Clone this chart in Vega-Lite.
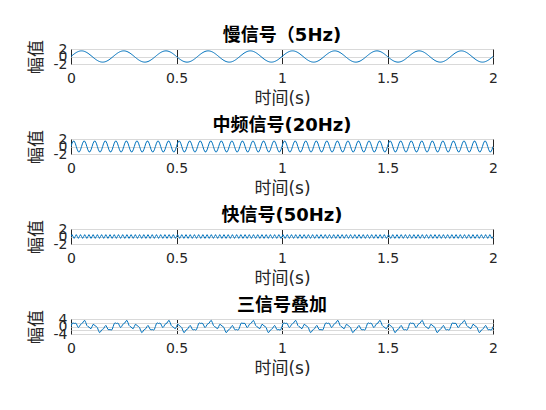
{
"$schema": "https://vega.github.io/schema/vega-lite/v6.json",
"padding": {"left": 26, "top": 26, "right": 10, "bottom": 5},
"datasets": {"sig": [
{"t":0,"slow":0,"mid":0,"fast":0,"sum":0},
{"t":0.005,"slow":0.235,"mid":0.882,"fast":0.5,"sum":1.617},
{"t":0.01,"slow":0.464,"mid":1.427,"fast":0,"sum":1.891},
{"t":0.015,"slow":0.681,"mid":1.427,"fast":-0.5,"sum":1.608},
{"t":0.02,"slow":0.882,"mid":0.882,"fast":0,"sum":1.764},
{"t":0.025,"slow":1.061,"mid":0,"fast":0.5,"sum":1.561},
{"t":0.03,"slow":1.214,"mid":-0.882,"fast":0,"sum":0.332},
{"t":0.035,"slow":1.337,"mid":-1.427,"fast":-0.5,"sum":-0.59},
{"t":0.04,"slow":1.427,"mid":-1.427,"fast":0,"sum":0},
{"t":0.045,"slow":1.482,"mid":-0.882,"fast":0.5,"sum":1.1},
{"t":0.05,"slow":1.5,"mid":0,"fast":0,"sum":1.5},
{"t":0.055,"slow":1.482,"mid":0.882,"fast":-0.5,"sum":1.864},
{"t":0.06,"slow":1.427,"mid":1.427,"fast":0,"sum":2.854},
{"t":0.065,"slow":1.337,"mid":1.427,"fast":0.5,"sum":3.264},
{"t":0.07,"slow":1.214,"mid":0.882,"fast":0,"sum":2.096},
{"t":0.075,"slow":1.061,"mid":0,"fast":-0.5,"sum":0.561},
{"t":0.08,"slow":0.882,"mid":-0.882,"fast":0,"sum":0},
{"t":0.085,"slow":0.681,"mid":-1.427,"fast":0.5,"sum":-0.246},
{"t":0.09,"slow":0.464,"mid":-1.427,"fast":0,"sum":-0.963},
{"t":0.095,"slow":0.235,"mid":-0.882,"fast":-0.5,"sum":-1.147},
{"t":0.1,"slow":0,"mid":0,"fast":0,"sum":0},
{"t":0.105,"slow":-0.235,"mid":0.882,"fast":0.5,"sum":1.147},
{"t":0.11,"slow":-0.464,"mid":1.427,"fast":0,"sum":0.963},
{"t":0.115,"slow":-0.681,"mid":1.427,"fast":-0.5,"sum":0.246},
{"t":0.12,"slow":-0.882,"mid":0.882,"fast":0,"sum":0},
{"t":0.125,"slow":-1.061,"mid":0,"fast":0.5,"sum":-0.561},
{"t":0.13,"slow":-1.214,"mid":-0.882,"fast":0,"sum":-2.096},
{"t":0.135,"slow":-1.337,"mid":-1.427,"fast":-0.5,"sum":-3.264},
{"t":0.14,"slow":-1.427,"mid":-1.427,"fast":0,"sum":-2.854},
{"t":0.145,"slow":-1.482,"mid":-0.882,"fast":0.5,"sum":-1.864},
{"t":0.15,"slow":-1.5,"mid":0,"fast":0,"sum":-1.5},
{"t":0.155,"slow":-1.482,"mid":0.882,"fast":-0.5,"sum":-1.1},
{"t":0.16,"slow":-1.427,"mid":1.427,"fast":0,"sum":0},
{"t":0.165,"slow":-1.337,"mid":1.427,"fast":0.5,"sum":0.59},
{"t":0.17,"slow":-1.214,"mid":0.882,"fast":0,"sum":-0.332},
{"t":0.175,"slow":-1.061,"mid":0,"fast":-0.5,"sum":-1.561},
{"t":0.18,"slow":-0.882,"mid":-0.882,"fast":0,"sum":-1.764},
{"t":0.185,"slow":-0.681,"mid":-1.427,"fast":0.5,"sum":-1.608},
{"t":0.19,"slow":-0.464,"mid":-1.427,"fast":0,"sum":-1.891},
{"t":0.195,"slow":-0.235,"mid":-0.882,"fast":-0.5,"sum":-1.617},
{"t":0.2,"slow":0,"mid":0,"fast":0,"sum":0},
{"t":0.205,"slow":0.235,"mid":0.882,"fast":0.5,"sum":1.617},
{"t":0.21,"slow":0.464,"mid":1.427,"fast":0,"sum":1.891},
{"t":0.215,"slow":0.681,"mid":1.427,"fast":-0.5,"sum":1.608},
{"t":0.22,"slow":0.882,"mid":0.882,"fast":0,"sum":1.764},
{"t":0.225,"slow":1.061,"mid":0,"fast":0.5,"sum":1.561},
{"t":0.23,"slow":1.214,"mid":-0.882,"fast":0,"sum":0.332},
{"t":0.235,"slow":1.337,"mid":-1.427,"fast":-0.5,"sum":-0.59},
{"t":0.24,"slow":1.427,"mid":-1.427,"fast":0,"sum":0},
{"t":0.245,"slow":1.482,"mid":-0.882,"fast":0.5,"sum":1.1},
{"t":0.25,"slow":1.5,"mid":0,"fast":0,"sum":1.5},
{"t":0.255,"slow":1.482,"mid":0.882,"fast":-0.5,"sum":1.864},
{"t":0.26,"slow":1.427,"mid":1.427,"fast":0,"sum":2.854},
{"t":0.265,"slow":1.337,"mid":1.427,"fast":0.5,"sum":3.264},
{"t":0.27,"slow":1.214,"mid":0.882,"fast":0,"sum":2.096},
{"t":0.275,"slow":1.061,"mid":0,"fast":-0.5,"sum":0.561},
{"t":0.28,"slow":0.882,"mid":-0.882,"fast":0,"sum":0},
{"t":0.285,"slow":0.681,"mid":-1.427,"fast":0.5,"sum":-0.246},
{"t":0.29,"slow":0.464,"mid":-1.427,"fast":0,"sum":-0.963},
{"t":0.295,"slow":0.235,"mid":-0.882,"fast":-0.5,"sum":-1.147},
{"t":0.3,"slow":0,"mid":0,"fast":0,"sum":0},
{"t":0.305,"slow":-0.235,"mid":0.882,"fast":0.5,"sum":1.147},
{"t":0.31,"slow":-0.464,"mid":1.427,"fast":0,"sum":0.963},
{"t":0.315,"slow":-0.681,"mid":1.427,"fast":-0.5,"sum":0.246},
{"t":0.32,"slow":-0.882,"mid":0.882,"fast":0,"sum":0},
{"t":0.325,"slow":-1.061,"mid":0,"fast":0.5,"sum":-0.561},
{"t":0.33,"slow":-1.214,"mid":-0.882,"fast":0,"sum":-2.096},
{"t":0.335,"slow":-1.337,"mid":-1.427,"fast":-0.5,"sum":-3.264},
{"t":0.34,"slow":-1.427,"mid":-1.427,"fast":0,"sum":-2.854},
{"t":0.345,"slow":-1.482,"mid":-0.882,"fast":0.5,"sum":-1.864},
{"t":0.35,"slow":-1.5,"mid":0,"fast":0,"sum":-1.5},
{"t":0.355,"slow":-1.482,"mid":0.882,"fast":-0.5,"sum":-1.1},
{"t":0.36,"slow":-1.427,"mid":1.427,"fast":0,"sum":0},
{"t":0.365,"slow":-1.337,"mid":1.427,"fast":0.5,"sum":0.59},
{"t":0.37,"slow":-1.214,"mid":0.882,"fast":0,"sum":-0.332},
{"t":0.375,"slow":-1.061,"mid":0,"fast":-0.5,"sum":-1.561},
{"t":0.38,"slow":-0.882,"mid":-0.882,"fast":0,"sum":-1.764},
{"t":0.385,"slow":-0.681,"mid":-1.427,"fast":0.5,"sum":-1.608},
{"t":0.39,"slow":-0.464,"mid":-1.427,"fast":0,"sum":-1.891},
{"t":0.395,"slow":-0.235,"mid":-0.882,"fast":-0.5,"sum":-1.617},
{"t":0.4,"slow":0,"mid":0,"fast":0,"sum":0},
{"t":0.405,"slow":0.235,"mid":0.882,"fast":0.5,"sum":1.617},
{"t":0.41,"slow":0.464,"mid":1.427,"fast":0,"sum":1.891},
{"t":0.415,"slow":0.681,"mid":1.427,"fast":-0.5,"sum":1.608},
{"t":0.42,"slow":0.882,"mid":0.882,"fast":0,"sum":1.764},
{"t":0.425,"slow":1.061,"mid":0,"fast":0.5,"sum":1.561},
{"t":0.43,"slow":1.214,"mid":-0.882,"fast":0,"sum":0.332},
{"t":0.435,"slow":1.337,"mid":-1.427,"fast":-0.5,"sum":-0.59},
{"t":0.44,"slow":1.427,"mid":-1.427,"fast":0,"sum":0},
{"t":0.445,"slow":1.482,"mid":-0.882,"fast":0.5,"sum":1.1},
{"t":0.45,"slow":1.5,"mid":0,"fast":0,"sum":1.5},
{"t":0.455,"slow":1.482,"mid":0.882,"fast":-0.5,"sum":1.864},
{"t":0.46,"slow":1.427,"mid":1.427,"fast":0,"sum":2.854},
{"t":0.465,"slow":1.337,"mid":1.427,"fast":0.5,"sum":3.264},
{"t":0.47,"slow":1.214,"mid":0.882,"fast":0,"sum":2.096},
{"t":0.475,"slow":1.061,"mid":0,"fast":-0.5,"sum":0.561},
{"t":0.48,"slow":0.882,"mid":-0.882,"fast":0,"sum":0},
{"t":0.485,"slow":0.681,"mid":-1.427,"fast":0.5,"sum":-0.246},
{"t":0.49,"slow":0.464,"mid":-1.427,"fast":0,"sum":-0.963},
{"t":0.495,"slow":0.235,"mid":-0.882,"fast":-0.5,"sum":-1.147},
{"t":0.5,"slow":0,"mid":0,"fast":0,"sum":0},
{"t":0.505,"slow":-0.235,"mid":0.882,"fast":0.5,"sum":1.147},
{"t":0.51,"slow":-0.464,"mid":1.427,"fast":0,"sum":0.963},
{"t":0.515,"slow":-0.681,"mid":1.427,"fast":-0.5,"sum":0.246},
{"t":0.52,"slow":-0.882,"mid":0.882,"fast":0,"sum":0},
{"t":0.525,"slow":-1.061,"mid":0,"fast":0.5,"sum":-0.561},
{"t":0.53,"slow":-1.214,"mid":-0.882,"fast":0,"sum":-2.096},
{"t":0.535,"slow":-1.337,"mid":-1.427,"fast":-0.5,"sum":-3.264},
{"t":0.54,"slow":-1.427,"mid":-1.427,"fast":0,"sum":-2.854},
{"t":0.545,"slow":-1.482,"mid":-0.882,"fast":0.5,"sum":-1.864},
{"t":0.55,"slow":-1.5,"mid":0,"fast":0,"sum":-1.5},
{"t":0.555,"slow":-1.482,"mid":0.882,"fast":-0.5,"sum":-1.1},
{"t":0.56,"slow":-1.427,"mid":1.427,"fast":0,"sum":0},
{"t":0.565,"slow":-1.337,"mid":1.427,"fast":0.5,"sum":0.59},
{"t":0.57,"slow":-1.214,"mid":0.882,"fast":0,"sum":-0.332},
{"t":0.575,"slow":-1.061,"mid":0,"fast":-0.5,"sum":-1.561},
{"t":0.58,"slow":-0.882,"mid":-0.882,"fast":0,"sum":-1.764},
{"t":0.585,"slow":-0.681,"mid":-1.427,"fast":0.5,"sum":-1.608},
{"t":0.59,"slow":-0.464,"mid":-1.427,"fast":0,"sum":-1.891},
{"t":0.595,"slow":-0.235,"mid":-0.882,"fast":-0.5,"sum":-1.617},
{"t":0.6,"slow":0,"mid":0,"fast":0,"sum":0},
{"t":0.605,"slow":0.235,"mid":0.882,"fast":0.5,"sum":1.617},
{"t":0.61,"slow":0.464,"mid":1.427,"fast":0,"sum":1.891},
{"t":0.615,"slow":0.681,"mid":1.427,"fast":-0.5,"sum":1.608},
{"t":0.62,"slow":0.882,"mid":0.882,"fast":0,"sum":1.764},
{"t":0.625,"slow":1.061,"mid":0,"fast":0.5,"sum":1.561},
{"t":0.63,"slow":1.214,"mid":-0.882,"fast":0,"sum":0.332},
{"t":0.635,"slow":1.337,"mid":-1.427,"fast":-0.5,"sum":-0.59},
{"t":0.64,"slow":1.427,"mid":-1.427,"fast":0,"sum":0},
{"t":0.645,"slow":1.482,"mid":-0.882,"fast":0.5,"sum":1.1},
{"t":0.65,"slow":1.5,"mid":0,"fast":0,"sum":1.5},
{"t":0.655,"slow":1.482,"mid":0.882,"fast":-0.5,"sum":1.864},
{"t":0.66,"slow":1.427,"mid":1.427,"fast":0,"sum":2.854},
{"t":0.665,"slow":1.337,"mid":1.427,"fast":0.5,"sum":3.264},
{"t":0.67,"slow":1.214,"mid":0.882,"fast":0,"sum":2.096},
{"t":0.675,"slow":1.061,"mid":0,"fast":-0.5,"sum":0.561},
{"t":0.68,"slow":0.882,"mid":-0.882,"fast":0,"sum":0},
{"t":0.685,"slow":0.681,"mid":-1.427,"fast":0.5,"sum":-0.246},
{"t":0.69,"slow":0.464,"mid":-1.427,"fast":0,"sum":-0.963},
{"t":0.695,"slow":0.235,"mid":-0.882,"fast":-0.5,"sum":-1.147},
{"t":0.7,"slow":0,"mid":0,"fast":0,"sum":0},
{"t":0.705,"slow":-0.235,"mid":0.882,"fast":0.5,"sum":1.147},
{"t":0.71,"slow":-0.464,"mid":1.427,"fast":0,"sum":0.963},
{"t":0.715,"slow":-0.681,"mid":1.427,"fast":-0.5,"sum":0.246},
{"t":0.72,"slow":-0.882,"mid":0.882,"fast":0,"sum":0},
{"t":0.725,"slow":-1.061,"mid":0,"fast":0.5,"sum":-0.561},
{"t":0.73,"slow":-1.214,"mid":-0.882,"fast":0,"sum":-2.096},
{"t":0.735,"slow":-1.337,"mid":-1.427,"fast":-0.5,"sum":-3.264},
{"t":0.74,"slow":-1.427,"mid":-1.427,"fast":0,"sum":-2.854},
{"t":0.745,"slow":-1.482,"mid":-0.882,"fast":0.5,"sum":-1.864},
{"t":0.75,"slow":-1.5,"mid":0,"fast":0,"sum":-1.5},
{"t":0.755,"slow":-1.482,"mid":0.882,"fast":-0.5,"sum":-1.1},
{"t":0.76,"slow":-1.427,"mid":1.427,"fast":0,"sum":0},
{"t":0.765,"slow":-1.337,"mid":1.427,"fast":0.5,"sum":0.59},
{"t":0.77,"slow":-1.214,"mid":0.882,"fast":0,"sum":-0.332},
{"t":0.775,"slow":-1.061,"mid":0,"fast":-0.5,"sum":-1.561},
{"t":0.78,"slow":-0.882,"mid":-0.882,"fast":0,"sum":-1.764},
{"t":0.785,"slow":-0.681,"mid":-1.427,"fast":0.5,"sum":-1.608},
{"t":0.79,"slow":-0.464,"mid":-1.427,"fast":0,"sum":-1.891},
{"t":0.795,"slow":-0.235,"mid":-0.882,"fast":-0.5,"sum":-1.617},
{"t":0.8,"slow":0,"mid":0,"fast":0,"sum":0},
{"t":0.805,"slow":0.235,"mid":0.882,"fast":0.5,"sum":1.617},
{"t":0.81,"slow":0.464,"mid":1.427,"fast":0,"sum":1.891},
{"t":0.815,"slow":0.681,"mid":1.427,"fast":-0.5,"sum":1.608},
{"t":0.82,"slow":0.882,"mid":0.882,"fast":0,"sum":1.764},
{"t":0.825,"slow":1.061,"mid":0,"fast":0.5,"sum":1.561},
{"t":0.83,"slow":1.214,"mid":-0.882,"fast":0,"sum":0.332},
{"t":0.835,"slow":1.337,"mid":-1.427,"fast":-0.5,"sum":-0.59},
{"t":0.84,"slow":1.427,"mid":-1.427,"fast":0,"sum":0},
{"t":0.845,"slow":1.482,"mid":-0.882,"fast":0.5,"sum":1.1},
{"t":0.85,"slow":1.5,"mid":0,"fast":0,"sum":1.5},
{"t":0.855,"slow":1.482,"mid":0.882,"fast":-0.5,"sum":1.864},
{"t":0.86,"slow":1.427,"mid":1.427,"fast":0,"sum":2.854},
{"t":0.865,"slow":1.337,"mid":1.427,"fast":0.5,"sum":3.264},
{"t":0.87,"slow":1.214,"mid":0.882,"fast":0,"sum":2.096},
{"t":0.875,"slow":1.061,"mid":0,"fast":-0.5,"sum":0.561},
{"t":0.88,"slow":0.882,"mid":-0.882,"fast":0,"sum":0},
{"t":0.885,"slow":0.681,"mid":-1.427,"fast":0.5,"sum":-0.246},
{"t":0.89,"slow":0.464,"mid":-1.427,"fast":0,"sum":-0.963},
{"t":0.895,"slow":0.235,"mid":-0.882,"fast":-0.5,"sum":-1.147},
{"t":0.9,"slow":0,"mid":0,"fast":0,"sum":0},
{"t":0.905,"slow":-0.235,"mid":0.882,"fast":0.5,"sum":1.147},
{"t":0.91,"slow":-0.464,"mid":1.427,"fast":0,"sum":0.963},
{"t":0.915,"slow":-0.681,"mid":1.427,"fast":-0.5,"sum":0.246},
{"t":0.92,"slow":-0.882,"mid":0.882,"fast":0,"sum":0},
{"t":0.925,"slow":-1.061,"mid":0,"fast":0.5,"sum":-0.561},
{"t":0.93,"slow":-1.214,"mid":-0.882,"fast":0,"sum":-2.096},
{"t":0.935,"slow":-1.337,"mid":-1.427,"fast":-0.5,"sum":-3.264},
{"t":0.94,"slow":-1.427,"mid":-1.427,"fast":0,"sum":-2.854},
{"t":0.945,"slow":-1.482,"mid":-0.882,"fast":0.5,"sum":-1.864},
{"t":0.95,"slow":-1.5,"mid":0,"fast":0,"sum":-1.5},
{"t":0.955,"slow":-1.482,"mid":0.882,"fast":-0.5,"sum":-1.1},
{"t":0.96,"slow":-1.427,"mid":1.427,"fast":0,"sum":0},
{"t":0.965,"slow":-1.337,"mid":1.427,"fast":0.5,"sum":0.59},
{"t":0.97,"slow":-1.214,"mid":0.882,"fast":0,"sum":-0.332},
{"t":0.975,"slow":-1.061,"mid":0,"fast":-0.5,"sum":-1.561},
{"t":0.98,"slow":-0.882,"mid":-0.882,"fast":0,"sum":-1.764},
{"t":0.985,"slow":-0.681,"mid":-1.427,"fast":0.5,"sum":-1.608},
{"t":0.99,"slow":-0.464,"mid":-1.427,"fast":0,"sum":-1.891},
{"t":0.995,"slow":-0.235,"mid":-0.882,"fast":-0.5,"sum":-1.617},
{"t":1,"slow":0,"mid":0,"fast":0,"sum":0},
{"t":1.005,"slow":0.235,"mid":0.882,"fast":0.5,"sum":1.617},
{"t":1.01,"slow":0.464,"mid":1.427,"fast":0,"sum":1.891},
{"t":1.015,"slow":0.681,"mid":1.427,"fast":-0.5,"sum":1.608},
{"t":1.02,"slow":0.882,"mid":0.882,"fast":0,"sum":1.764},
{"t":1.025,"slow":1.061,"mid":0,"fast":0.5,"sum":1.561},
{"t":1.03,"slow":1.214,"mid":-0.882,"fast":0,"sum":0.332},
{"t":1.035,"slow":1.337,"mid":-1.427,"fast":-0.5,"sum":-0.59},
{"t":1.04,"slow":1.427,"mid":-1.427,"fast":0,"sum":0},
{"t":1.045,"slow":1.482,"mid":-0.882,"fast":0.5,"sum":1.1},
{"t":1.05,"slow":1.5,"mid":0,"fast":0,"sum":1.5},
{"t":1.055,"slow":1.482,"mid":0.882,"fast":-0.5,"sum":1.864},
{"t":1.06,"slow":1.427,"mid":1.427,"fast":0,"sum":2.854},
{"t":1.065,"slow":1.337,"mid":1.427,"fast":0.5,"sum":3.264},
{"t":1.07,"slow":1.214,"mid":0.882,"fast":0,"sum":2.096},
{"t":1.075,"slow":1.061,"mid":0,"fast":-0.5,"sum":0.561},
{"t":1.08,"slow":0.882,"mid":-0.882,"fast":0,"sum":0},
{"t":1.085,"slow":0.681,"mid":-1.427,"fast":0.5,"sum":-0.246},
{"t":1.09,"slow":0.464,"mid":-1.427,"fast":0,"sum":-0.963},
{"t":1.095,"slow":0.235,"mid":-0.882,"fast":-0.5,"sum":-1.147},
{"t":1.1,"slow":0,"mid":0,"fast":0,"sum":0},
{"t":1.105,"slow":-0.235,"mid":0.882,"fast":0.5,"sum":1.147},
{"t":1.11,"slow":-0.464,"mid":1.427,"fast":0,"sum":0.963},
{"t":1.115,"slow":-0.681,"mid":1.427,"fast":-0.5,"sum":0.246},
{"t":1.12,"slow":-0.882,"mid":0.882,"fast":0,"sum":0},
{"t":1.125,"slow":-1.061,"mid":0,"fast":0.5,"sum":-0.561},
{"t":1.13,"slow":-1.214,"mid":-0.882,"fast":0,"sum":-2.096},
{"t":1.135,"slow":-1.337,"mid":-1.427,"fast":-0.5,"sum":-3.264},
{"t":1.14,"slow":-1.427,"mid":-1.427,"fast":0,"sum":-2.854},
{"t":1.145,"slow":-1.482,"mid":-0.882,"fast":0.5,"sum":-1.864},
{"t":1.15,"slow":-1.5,"mid":0,"fast":0,"sum":-1.5},
{"t":1.155,"slow":-1.482,"mid":0.882,"fast":-0.5,"sum":-1.1},
{"t":1.16,"slow":-1.427,"mid":1.427,"fast":0,"sum":0},
{"t":1.165,"slow":-1.337,"mid":1.427,"fast":0.5,"sum":0.59},
{"t":1.17,"slow":-1.214,"mid":0.882,"fast":0,"sum":-0.332},
{"t":1.175,"slow":-1.061,"mid":0,"fast":-0.5,"sum":-1.561},
{"t":1.18,"slow":-0.882,"mid":-0.882,"fast":0,"sum":-1.764},
{"t":1.185,"slow":-0.681,"mid":-1.427,"fast":0.5,"sum":-1.608},
{"t":1.19,"slow":-0.464,"mid":-1.427,"fast":0,"sum":-1.891},
{"t":1.195,"slow":-0.235,"mid":-0.882,"fast":-0.5,"sum":-1.617},
{"t":1.2,"slow":0,"mid":0,"fast":0,"sum":0},
{"t":1.205,"slow":0.235,"mid":0.882,"fast":0.5,"sum":1.617},
{"t":1.21,"slow":0.464,"mid":1.427,"fast":0,"sum":1.891},
{"t":1.215,"slow":0.681,"mid":1.427,"fast":-0.5,"sum":1.608},
{"t":1.22,"slow":0.882,"mid":0.882,"fast":0,"sum":1.764},
{"t":1.225,"slow":1.061,"mid":0,"fast":0.5,"sum":1.561},
{"t":1.23,"slow":1.214,"mid":-0.882,"fast":0,"sum":0.332},
{"t":1.235,"slow":1.337,"mid":-1.427,"fast":-0.5,"sum":-0.59},
{"t":1.24,"slow":1.427,"mid":-1.427,"fast":0,"sum":0},
{"t":1.245,"slow":1.482,"mid":-0.882,"fast":0.5,"sum":1.1},
{"t":1.25,"slow":1.5,"mid":0,"fast":0,"sum":1.5},
{"t":1.255,"slow":1.482,"mid":0.882,"fast":-0.5,"sum":1.864},
{"t":1.26,"slow":1.427,"mid":1.427,"fast":0,"sum":2.854},
{"t":1.265,"slow":1.337,"mid":1.427,"fast":0.5,"sum":3.264},
{"t":1.27,"slow":1.214,"mid":0.882,"fast":0,"sum":2.096},
{"t":1.275,"slow":1.061,"mid":0,"fast":-0.5,"sum":0.561},
{"t":1.28,"slow":0.882,"mid":-0.882,"fast":0,"sum":0},
{"t":1.285,"slow":0.681,"mid":-1.427,"fast":0.5,"sum":-0.246},
{"t":1.29,"slow":0.464,"mid":-1.427,"fast":0,"sum":-0.963},
{"t":1.295,"slow":0.235,"mid":-0.882,"fast":-0.5,"sum":-1.147},
{"t":1.3,"slow":0,"mid":0,"fast":0,"sum":0},
{"t":1.305,"slow":-0.235,"mid":0.882,"fast":0.5,"sum":1.147},
{"t":1.31,"slow":-0.464,"mid":1.427,"fast":0,"sum":0.963},
{"t":1.315,"slow":-0.681,"mid":1.427,"fast":-0.5,"sum":0.246},
{"t":1.32,"slow":-0.882,"mid":0.882,"fast":0,"sum":0},
{"t":1.325,"slow":-1.061,"mid":0,"fast":0.5,"sum":-0.561},
{"t":1.33,"slow":-1.214,"mid":-0.882,"fast":0,"sum":-2.096},
{"t":1.335,"slow":-1.337,"mid":-1.427,"fast":-0.5,"sum":-3.264},
{"t":1.34,"slow":-1.427,"mid":-1.427,"fast":0,"sum":-2.854},
{"t":1.345,"slow":-1.482,"mid":-0.882,"fast":0.5,"sum":-1.864},
{"t":1.35,"slow":-1.5,"mid":0,"fast":0,"sum":-1.5},
{"t":1.355,"slow":-1.482,"mid":0.882,"fast":-0.5,"sum":-1.1},
{"t":1.36,"slow":-1.427,"mid":1.427,"fast":0,"sum":0},
{"t":1.365,"slow":-1.337,"mid":1.427,"fast":0.5,"sum":0.59},
{"t":1.37,"slow":-1.214,"mid":0.882,"fast":0,"sum":-0.332},
{"t":1.375,"slow":-1.061,"mid":0,"fast":-0.5,"sum":-1.561},
{"t":1.38,"slow":-0.882,"mid":-0.882,"fast":0,"sum":-1.764},
{"t":1.385,"slow":-0.681,"mid":-1.427,"fast":0.5,"sum":-1.608},
{"t":1.39,"slow":-0.464,"mid":-1.427,"fast":0,"sum":-1.891},
{"t":1.395,"slow":-0.235,"mid":-0.882,"fast":-0.5,"sum":-1.617},
{"t":1.4,"slow":0,"mid":0,"fast":0,"sum":0},
{"t":1.405,"slow":0.235,"mid":0.882,"fast":0.5,"sum":1.617},
{"t":1.41,"slow":0.464,"mid":1.427,"fast":0,"sum":1.891},
{"t":1.415,"slow":0.681,"mid":1.427,"fast":-0.5,"sum":1.608},
{"t":1.42,"slow":0.882,"mid":0.882,"fast":0,"sum":1.764},
{"t":1.425,"slow":1.061,"mid":0,"fast":0.5,"sum":1.561},
{"t":1.43,"slow":1.214,"mid":-0.882,"fast":0,"sum":0.332},
{"t":1.435,"slow":1.337,"mid":-1.427,"fast":-0.5,"sum":-0.59},
{"t":1.44,"slow":1.427,"mid":-1.427,"fast":0,"sum":0},
{"t":1.445,"slow":1.482,"mid":-0.882,"fast":0.5,"sum":1.1},
{"t":1.45,"slow":1.5,"mid":0,"fast":0,"sum":1.5},
{"t":1.455,"slow":1.482,"mid":0.882,"fast":-0.5,"sum":1.864},
{"t":1.46,"slow":1.427,"mid":1.427,"fast":0,"sum":2.854},
{"t":1.465,"slow":1.337,"mid":1.427,"fast":0.5,"sum":3.264},
{"t":1.47,"slow":1.214,"mid":0.882,"fast":0,"sum":2.096},
{"t":1.475,"slow":1.061,"mid":0,"fast":-0.5,"sum":0.561},
{"t":1.48,"slow":0.882,"mid":-0.882,"fast":0,"sum":0},
{"t":1.485,"slow":0.681,"mid":-1.427,"fast":0.5,"sum":-0.246},
{"t":1.49,"slow":0.464,"mid":-1.427,"fast":0,"sum":-0.963},
{"t":1.495,"slow":0.235,"mid":-0.882,"fast":-0.5,"sum":-1.147},
{"t":1.5,"slow":0,"mid":0,"fast":0,"sum":0},
{"t":1.505,"slow":-0.235,"mid":0.882,"fast":0.5,"sum":1.147},
{"t":1.51,"slow":-0.464,"mid":1.427,"fast":0,"sum":0.963},
{"t":1.515,"slow":-0.681,"mid":1.427,"fast":-0.5,"sum":0.246},
{"t":1.52,"slow":-0.882,"mid":0.882,"fast":0,"sum":0},
{"t":1.525,"slow":-1.061,"mid":0,"fast":0.5,"sum":-0.561},
{"t":1.53,"slow":-1.214,"mid":-0.882,"fast":0,"sum":-2.096},
{"t":1.535,"slow":-1.337,"mid":-1.427,"fast":-0.5,"sum":-3.264},
{"t":1.54,"slow":-1.427,"mid":-1.427,"fast":0,"sum":-2.854},
{"t":1.545,"slow":-1.482,"mid":-0.882,"fast":0.5,"sum":-1.864},
{"t":1.55,"slow":-1.5,"mid":0,"fast":0,"sum":-1.5},
{"t":1.555,"slow":-1.482,"mid":0.882,"fast":-0.5,"sum":-1.1},
{"t":1.56,"slow":-1.427,"mid":1.427,"fast":0,"sum":0},
{"t":1.565,"slow":-1.337,"mid":1.427,"fast":0.5,"sum":0.59},
{"t":1.57,"slow":-1.214,"mid":0.882,"fast":0,"sum":-0.332},
{"t":1.575,"slow":-1.061,"mid":0,"fast":-0.5,"sum":-1.561},
{"t":1.58,"slow":-0.882,"mid":-0.882,"fast":0,"sum":-1.764},
{"t":1.585,"slow":-0.681,"mid":-1.427,"fast":0.5,"sum":-1.608},
{"t":1.59,"slow":-0.464,"mid":-1.427,"fast":0,"sum":-1.891},
{"t":1.595,"slow":-0.235,"mid":-0.882,"fast":-0.5,"sum":-1.617},
{"t":1.6,"slow":0,"mid":0,"fast":0,"sum":0},
{"t":1.605,"slow":0.235,"mid":0.882,"fast":0.5,"sum":1.617},
{"t":1.61,"slow":0.464,"mid":1.427,"fast":0,"sum":1.891},
{"t":1.615,"slow":0.681,"mid":1.427,"fast":-0.5,"sum":1.608},
{"t":1.62,"slow":0.882,"mid":0.882,"fast":0,"sum":1.764},
{"t":1.625,"slow":1.061,"mid":0,"fast":0.5,"sum":1.561},
{"t":1.63,"slow":1.214,"mid":-0.882,"fast":0,"sum":0.332},
{"t":1.635,"slow":1.337,"mid":-1.427,"fast":-0.5,"sum":-0.59},
{"t":1.64,"slow":1.427,"mid":-1.427,"fast":0,"sum":0},
{"t":1.645,"slow":1.482,"mid":-0.882,"fast":0.5,"sum":1.1},
{"t":1.65,"slow":1.5,"mid":0,"fast":0,"sum":1.5},
{"t":1.655,"slow":1.482,"mid":0.882,"fast":-0.5,"sum":1.864},
{"t":1.66,"slow":1.427,"mid":1.427,"fast":0,"sum":2.854},
{"t":1.665,"slow":1.337,"mid":1.427,"fast":0.5,"sum":3.264},
{"t":1.67,"slow":1.214,"mid":0.882,"fast":0,"sum":2.096},
{"t":1.675,"slow":1.061,"mid":0,"fast":-0.5,"sum":0.561},
{"t":1.68,"slow":0.882,"mid":-0.882,"fast":0,"sum":0},
{"t":1.685,"slow":0.681,"mid":-1.427,"fast":0.5,"sum":-0.246},
{"t":1.69,"slow":0.464,"mid":-1.427,"fast":0,"sum":-0.963},
{"t":1.695,"slow":0.235,"mid":-0.882,"fast":-0.5,"sum":-1.147},
{"t":1.7,"slow":0,"mid":0,"fast":0,"sum":0},
{"t":1.705,"slow":-0.235,"mid":0.882,"fast":0.5,"sum":1.147},
{"t":1.71,"slow":-0.464,"mid":1.427,"fast":0,"sum":0.963},
{"t":1.715,"slow":-0.681,"mid":1.427,"fast":-0.5,"sum":0.246},
{"t":1.72,"slow":-0.882,"mid":0.882,"fast":0,"sum":0},
{"t":1.725,"slow":-1.061,"mid":0,"fast":0.5,"sum":-0.561},
{"t":1.73,"slow":-1.214,"mid":-0.882,"fast":0,"sum":-2.096},
{"t":1.735,"slow":-1.337,"mid":-1.427,"fast":-0.5,"sum":-3.264},
{"t":1.74,"slow":-1.427,"mid":-1.427,"fast":0,"sum":-2.854},
{"t":1.745,"slow":-1.482,"mid":-0.882,"fast":0.5,"sum":-1.864},
{"t":1.75,"slow":-1.5,"mid":0,"fast":0,"sum":-1.5},
{"t":1.755,"slow":-1.482,"mid":0.882,"fast":-0.5,"sum":-1.1},
{"t":1.76,"slow":-1.427,"mid":1.427,"fast":0,"sum":0},
{"t":1.765,"slow":-1.337,"mid":1.427,"fast":0.5,"sum":0.59},
{"t":1.77,"slow":-1.214,"mid":0.882,"fast":0,"sum":-0.332},
{"t":1.775,"slow":-1.061,"mid":0,"fast":-0.5,"sum":-1.561},
{"t":1.78,"slow":-0.882,"mid":-0.882,"fast":0,"sum":-1.764},
{"t":1.785,"slow":-0.681,"mid":-1.427,"fast":0.5,"sum":-1.608},
{"t":1.79,"slow":-0.464,"mid":-1.427,"fast":0,"sum":-1.891},
{"t":1.795,"slow":-0.235,"mid":-0.882,"fast":-0.5,"sum":-1.617},
{"t":1.8,"slow":0,"mid":0,"fast":0,"sum":0},
{"t":1.805,"slow":0.235,"mid":0.882,"fast":0.5,"sum":1.617},
{"t":1.81,"slow":0.464,"mid":1.427,"fast":0,"sum":1.891},
{"t":1.815,"slow":0.681,"mid":1.427,"fast":-0.5,"sum":1.608},
{"t":1.82,"slow":0.882,"mid":0.882,"fast":0,"sum":1.764},
{"t":1.825,"slow":1.061,"mid":0,"fast":0.5,"sum":1.561},
{"t":1.83,"slow":1.214,"mid":-0.882,"fast":0,"sum":0.332},
{"t":1.835,"slow":1.337,"mid":-1.427,"fast":-0.5,"sum":-0.59},
{"t":1.84,"slow":1.427,"mid":-1.427,"fast":0,"sum":0},
{"t":1.845,"slow":1.482,"mid":-0.882,"fast":0.5,"sum":1.1},
{"t":1.85,"slow":1.5,"mid":0,"fast":0,"sum":1.5},
{"t":1.855,"slow":1.482,"mid":0.882,"fast":-0.5,"sum":1.864},
{"t":1.86,"slow":1.427,"mid":1.427,"fast":0,"sum":2.854},
{"t":1.865,"slow":1.337,"mid":1.427,"fast":0.5,"sum":3.264},
{"t":1.87,"slow":1.214,"mid":0.882,"fast":0,"sum":2.096},
{"t":1.875,"slow":1.061,"mid":0,"fast":-0.5,"sum":0.561},
{"t":1.88,"slow":0.882,"mid":-0.882,"fast":0,"sum":0},
{"t":1.885,"slow":0.681,"mid":-1.427,"fast":0.5,"sum":-0.246},
{"t":1.89,"slow":0.464,"mid":-1.427,"fast":0,"sum":-0.963},
{"t":1.895,"slow":0.235,"mid":-0.882,"fast":-0.5,"sum":-1.147},
{"t":1.9,"slow":0,"mid":0,"fast":0,"sum":0},
{"t":1.905,"slow":-0.235,"mid":0.882,"fast":0.5,"sum":1.147},
{"t":1.91,"slow":-0.464,"mid":1.427,"fast":0,"sum":0.963},
{"t":1.915,"slow":-0.681,"mid":1.427,"fast":-0.5,"sum":0.246},
{"t":1.92,"slow":-0.882,"mid":0.882,"fast":0,"sum":0},
{"t":1.925,"slow":-1.061,"mid":0,"fast":0.5,"sum":-0.561},
{"t":1.93,"slow":-1.214,"mid":-0.882,"fast":0,"sum":-2.096},
{"t":1.935,"slow":-1.337,"mid":-1.427,"fast":-0.5,"sum":-3.264},
{"t":1.94,"slow":-1.427,"mid":-1.427,"fast":0,"sum":-2.854},
{"t":1.945,"slow":-1.482,"mid":-0.882,"fast":0.5,"sum":-1.864},
{"t":1.95,"slow":-1.5,"mid":0,"fast":0,"sum":-1.5},
{"t":1.955,"slow":-1.482,"mid":0.882,"fast":-0.5,"sum":-1.1},
{"t":1.96,"slow":-1.427,"mid":1.427,"fast":0,"sum":0},
{"t":1.965,"slow":-1.337,"mid":1.427,"fast":0.5,"sum":0.59},
{"t":1.97,"slow":-1.214,"mid":0.882,"fast":0,"sum":-0.332},
{"t":1.975,"slow":-1.061,"mid":0,"fast":-0.5,"sum":-1.561},
{"t":1.98,"slow":-0.882,"mid":-0.882,"fast":0,"sum":-1.764},
{"t":1.985,"slow":-0.681,"mid":-1.427,"fast":0.5,"sum":-1.608},
{"t":1.99,"slow":-0.464,"mid":-1.427,"fast":0,"sum":-1.891},
{"t":1.995,"slow":-0.235,"mid":-0.882,"fast":-0.5,"sum":-1.617},
{"t":2,"slow":0,"mid":0,"fast":0,"sum":0}
]},
"data": {"name": "sig"},
"spacing": 9,
"config": {
 "view": {"stroke": "#262626", "strokeWidth": 1},
 "axis": {"labelFont": "DejaVu Sans", "labelFontSize": 14, "labelColor": "#262626", "titleFont": "DejaVu Sans, Noto Sans CJK SC", "titleFontSize": 17, "titleFontWeight": "normal", "titleColor": "#262626", "tickSize": 0, "domain": false, "labelOverlap": false, "labelFlush": false, "labelPadding": 4},
 "axisX": {"gridColor": "#262626", "gridOpacity": 1, "labelPadding": 7, "titlePadding": 5},
 "axisY": {"gridColor": "#d9d9d9", "gridOpacity": 1, "titlePadding": 8, "titleFontSize": 17, "labelExpr": "replace(datum.label, '−', '-')"},
 "title": {"font": "DejaVu Sans, Noto Sans CJK SC", "fontSize": 18, "fontWeight": "bold", "color": "#000000", "offset": -5}
},
"vconcat": [
 {"width": 422, "height": 15, "title": "慢信号（5Hz)",
  "mark": {"type": "line", "color": "#0072BD", "strokeWidth": 1, "clip": true},
  "encoding": {
   "x": {"field": "t", "type": "quantitative", "scale": {"domain": [0, 2], "nice": false}, "axis": {"values": [0, 0.5, 1, 1.5, 2], "format": "~g", "title": "时间(s)"}},
   "y": {"field": "slow", "type": "quantitative", "scale": {"domain": [-2, 2], "nice": false}, "axis": {"values": [-2, 0, 2], "title": "幅值"}}
  }},
 {"width": 422, "height": 15, "title": "中频信号(20Hz)",
  "mark": {"type": "line", "color": "#0072BD", "strokeWidth": 1, "clip": true},
  "encoding": {
   "x": {"field": "t", "type": "quantitative", "scale": {"domain": [0, 2], "nice": false}, "axis": {"values": [0, 0.5, 1, 1.5, 2], "format": "~g", "title": "时间(s)"}},
   "y": {"field": "mid", "type": "quantitative", "scale": {"domain": [-2, 2], "nice": false}, "axis": {"values": [-2, 0, 2], "title": "幅值"}}
  }},
 {"width": 422, "height": 15, "title": "快信号(50Hz)",
  "mark": {"type": "line", "color": "#0072BD", "strokeWidth": 1, "clip": true},
  "encoding": {
   "x": {"field": "t", "type": "quantitative", "scale": {"domain": [0, 2], "nice": false}, "axis": {"values": [0, 0.5, 1, 1.5, 2], "format": "~g", "title": "时间(s)"}},
   "y": {"field": "fast", "type": "quantitative", "scale": {"domain": [-2, 2], "nice": false}, "axis": {"values": [-2, 0, 2], "title": "幅值"}}
  }},
 {"width": 422, "height": 15, "title": "三信号叠加",
  "mark": {"type": "line", "color": "#0072BD", "strokeWidth": 1, "clip": true},
  "encoding": {
   "x": {"field": "t", "type": "quantitative", "scale": {"domain": [0, 2], "nice": false}, "axis": {"values": [0, 0.5, 1, 1.5, 2], "format": "~g", "title": "时间(s)"}},
   "y": {"field": "sum", "type": "quantitative", "scale": {"domain": [-4, 4], "nice": false}, "axis": {"values": [-4, -2, 0, 2, 4], "labelExpr": "abs(datum.value) == 2 ? '' : replace(datum.label, '−', '-')", "title": "幅值"}}
  }}
]
}
